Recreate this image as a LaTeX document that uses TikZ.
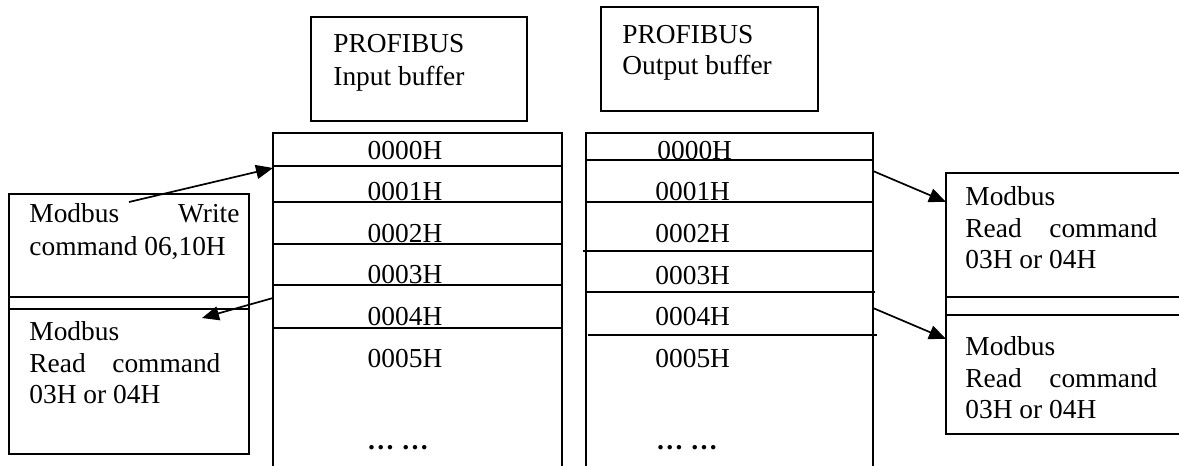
\documentclass[tikz,border=0pt]{standalone}
\usepackage{fontspec}
\setmainfont{Liberation Serif}
\usetikzlibrary{arrows.meta,fit}
\newcommand\fs{\fontsize{13.7pt}{16pt}\selectfont}
\tikzset{
  lbl/.style={inner sep=0pt, anchor=base west, font=\fs},
  cell/.style={inner sep=0pt, anchor=base, font=\fs},
  frame/.style={draw, inner sep=0pt, line width=0.85pt},
  rule/.style={line width=0.85pt},
  arr/.style={line width=0.85pt, -{Triangle[length=8.5pt,width=7pt]}}
}
\begin{document}
\begin{tikzpicture}[x=0.5pt,y=-0.5pt]
\useasboundingbox (0,0) rectangle (1179,466);
\clip (0,0) rectangle (1179,466);
% label boxes
\node[frame, fit={(311,17) (527,121)}] (inlbl) {};
\node[lbl] (inlblA) at (333,53) {PROFIBUS};
\node[lbl] (inlblB) at (333,85) {Input buffer};
\node[frame, fit={(601,7) (818,111)}] (outlbl) {};
\node[lbl] (outlblA) at (622,43) {PROFIBUS};
\node[lbl] (outlblB) at (622,75) {Output buffer};
% input table
\node[frame, fit={(273,133) (562,490)}] (inT) {};
\draw[rule] (273,166) -- (562,166);
\draw[rule] (273,202) -- (562,202);
\draw[rule] (273,244) -- (562,244);
\draw[rule] (273,285) -- (562,285);
\draw[rule] (273,328) -- (562,328);
\node[cell] (i0) at (405,159) {0000H};
\node[cell] (i1) at (405,200) {0001H};
\node[cell] (i2) at (405,242) {0002H};
\node[cell] (i3) at (405,283) {0003H};
\node[cell] (i4) at (405,325) {0004H};
\node[cell] (i5) at (405,367) {0005H};
\node[cell] (idots) at (398,449) {\bfseries … …};
% output table
\node[frame, fit={(586,133) (873,490)}] (outT) {};
\draw[rule] (586,160) -- (873,160);
\draw[rule] (586,202) -- (873,202);
\draw[rule] (583,251) -- (872,251);
\draw[rule] (587,292) -- (875,292);
\draw[rule] (588,335) -- (877,335);
\node[lbl] (o0) at (657,159) {0000H};
\node[lbl] (o1) at (655,200) {0001H};
\node[lbl] (o2) at (655,242) {0002H};
\node[lbl] (o3) at (655,284) {0003H};
\node[lbl] (o4) at (655,325) {0004H};
\node[lbl] (o5) at (655,367) {0005H};
\node[cell] (odots) at (687,449) {\bfseries … …};
% left boxes
\node[frame, fit={(9,194) (249,309)}] (wbox) {};
\node[frame, fit={(9,297) (249,454)}] (rbox) {};
\node[lbl] (wA) at (29,222) {\makebox[105pt][s]{Modbus\hfill Write}};
\node[lbl] (wB) at (29,255) {command 06,10H};
\node[lbl] (rA) at (29,340) {Modbus};
\node[lbl] (rB) at (29,372) {\makebox[95.5pt][s]{Read\hfill command}};
\node[lbl] (rC) at (29,403) {03H or 04H};
% right boxes
\node[frame, fit={(946,173) (1220,315)}] (rb1) {};
\node[frame, fit={(946,297) (1220,434)}] (rb2) {};
\node[lbl] (aA) at (965,205) {Modbus};
\node[lbl] (aB) at (965,237) {\makebox[96pt][s]{Read\hfill command}};
\node[lbl] (aC) at (965,268) {03H or 04H};
\node[lbl] (bA) at (965,355) {Modbus};
\node[lbl] (bB) at (965,387) {\makebox[96pt][s]{Read\hfill command}};
\node[lbl] (bC) at (965,418) {03H or 04H};
% arrows
\coordinate (w1) at (129,202);
\coordinate (w2) at (273,168);
\coordinate (r1) at (273,298);
\coordinate (r2) at (202,318);
\coordinate (p1) at (873,171);
\coordinate (p2) at (946,202);
\coordinate (q1) at (873,308);
\coordinate (q2) at (946,339);
\draw[arr] (w1) -- (w2);
\draw[arr] (r1) -- (r2);
\draw[arr] (p1) -- (p2);
\draw[arr] (q1) -- (q2);
\end{tikzpicture}
\end{document}
